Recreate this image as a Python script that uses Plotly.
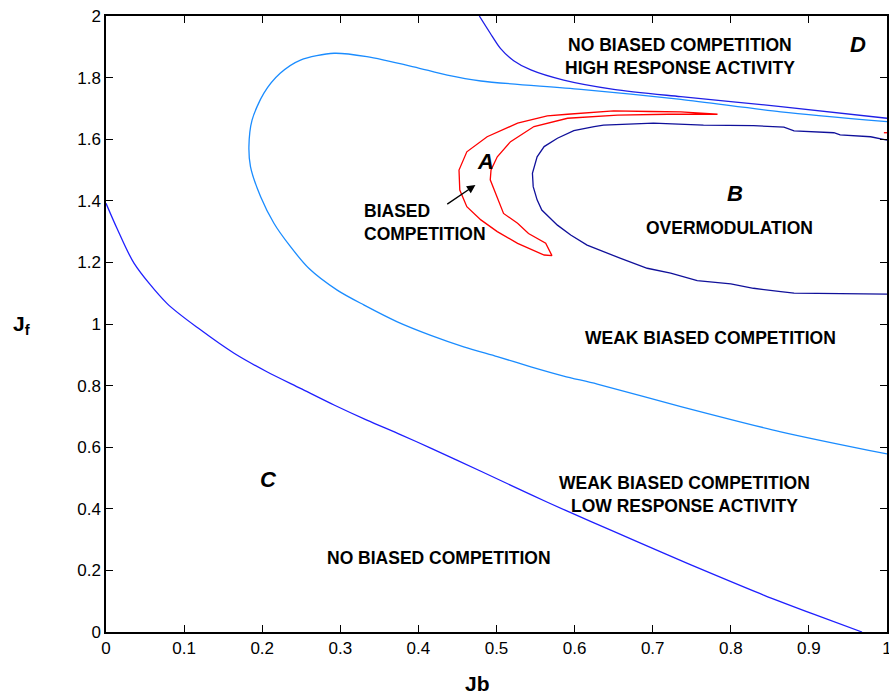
import plotly.graph_objects as go

# ---- data ----
# C boundary (blue, lower)
c_x = [0.0, 0.014, 0.036, 0.078, 0.121, 0.164, 0.206, 0.249, 0.292, 0.334, 0.377, 0.415, 0.480, 0.544,
       0.590, 0.650, 0.714, 0.778, 0.842, 0.906, 0.968]
c_y = [1.392, 1.311, 1.197, 1.067, 0.981, 0.905, 0.845, 0.791, 0.737, 0.688, 0.641, 0.598, 0.522, 0.446,
       0.393, 0.327, 0.256, 0.187, 0.120, 0.058, 0.0]

# weak-biased boundary (light blue)
w_x = [1.0, 0.864, 0.736, 0.608, 0.480, 0.437, 0.394, 0.334, 0.292, 0.249, 0.223, 0.202, 0.187, 0.183,
       0.185, 0.198, 0.215, 0.235, 0.260, 0.296, 0.330, 0.373, 0.415, 0.458, 0.501, 0.544, 0.586, 0.629,
       0.736, 0.864, 1.0]
w_y = [1.657, 1.689, 1.729, 1.762, 1.789, 1.808, 1.835, 1.868, 1.879, 1.857, 1.814, 1.749, 1.662, 1.576,
       1.511, 1.413, 1.327, 1.255, 1.180, 1.110, 1.062, 1.007, 0.964, 0.926, 0.894, 0.861, 0.831, 0.805,
       0.732, 0.650, 0.578]

# D boundary (blue, upper)
d_x = [0.478, 0.492, 0.505, 0.522, 0.544, 0.586, 0.650, 0.736, 0.864, 1.0]
d_y = [2.0, 1.944, 1.895, 1.855, 1.825, 1.792, 1.762, 1.738, 1.706, 1.668]

# A region (red, closed loop)
a_x = [0.783, 0.736, 0.697, 0.650, 0.591, 0.565, 0.527, 0.501, 0.488, 0.462, 0.452, 0.453, 0.462, 0.480,
       0.501, 0.527, 0.548, 0.561, 0.571, 0.563, 0.541, 0.527, 0.509, 0.501, 0.492, 0.493, 0.501, 0.518,
       0.548, 0.591, 0.655, 0.720, 0.783]
a_y = [1.681, 1.689, 1.690, 1.692, 1.681, 1.676, 1.652, 1.622, 1.608, 1.559, 1.500, 1.435, 1.381, 1.338,
       1.300, 1.262, 1.240, 1.224, 1.222, 1.262, 1.294, 1.327, 1.359, 1.413, 1.468, 1.500, 1.543, 1.592,
       1.641, 1.668, 1.678, 1.681, 1.681]
a2_x = [0.996, 1.0]
a2_y = [1.621, 1.621]

# B region (navy)
b_x = [1.0, 0.979, 0.940, 0.932, 0.881, 0.868, 0.829, 0.765, 0.701, 0.637, 0.625, 0.599, 0.578, 0.561,
       0.552, 0.546, 0.547, 0.552, 0.558, 0.578, 0.595, 0.616, 0.659, 0.693, 0.723, 0.757, 0.800, 0.829,
       0.864, 0.881, 1.0]
b_y = [1.597, 1.608, 1.614, 1.621, 1.627, 1.639, 1.644, 1.646, 1.652, 1.646, 1.641, 1.628, 1.603, 1.576,
       1.543, 1.489, 1.446, 1.403, 1.370, 1.321, 1.289, 1.256, 1.213, 1.181, 1.165, 1.141, 1.130, 1.116,
       1.105, 1.100, 1.097]

x_ticks = [0, 0.1, 0.2, 0.3, 0.4, 0.5, 0.6, 0.7, 0.8, 0.9, 1]
x_tick_labels = ["0", "0.1", "0.2", "0.3", "0.4", "0.5", "0.6", "0.7", "0.8", "0.9", "1"]
y_ticks = [0, 0.2, 0.4, 0.6, 0.8, 1, 1.2, 1.4, 1.6, 1.8, 2]
y_tick_labels = ["0", "0.2", "0.4", "0.6", "0.8", "1", "1.2", "1.4", "1.6", "1.8", "2"]

region_labels = ["NO BIASED COMPETITION<br>HIGH RESPONSE ACTIVITY", "OVERMODULATION",
                 "WEAK BIASED COMPETITION", "WEAK BIASED COMPETITION<br>LOW RESPONSE ACTIVITY",
                 "NO BIASED COMPETITION"]
region_x = [0.735, 0.798, 0.774, 0.741, 0.427]
region_y = [1.87, 1.312, 0.955, 0.448, 0.240]

letters = ["A", "B", "C", "D"]
letter_x = [0.486, 0.806, 0.208, 0.963]
letter_y = [1.526, 1.425, 0.494, 1.906]

FONT = "Liberation Sans, Arial, Helvetica, sans-serif"
LBL = 17.5

fig = go.Figure()
fig.add_trace(go.Scatter(x=c_x, y=c_y, mode="lines", line=dict(color="#1f1fff", width=1.3, shape="spline", smoothing=0.8)))
fig.add_trace(go.Scatter(x=w_x, y=w_y, mode="lines", line=dict(color="#1a8cff", width=1.3, shape="spline", smoothing=0.8)))
fig.add_trace(go.Scatter(x=d_x, y=d_y, mode="lines", line=dict(color="#1f1fe6", width=1.3, shape="spline", smoothing=0.8)))
fig.add_trace(go.Scatter(x=a_x, y=a_y, mode="lines", line=dict(color="#ff0000", width=1.3)))
fig.add_trace(go.Scatter(x=a2_x, y=a2_y, mode="lines", line=dict(color="#ff0000", width=1.3)))
fig.add_trace(go.Scatter(x=b_x, y=b_y, mode="lines", line=dict(color="#10109a", width=1.3)))

for t, x, y in zip(region_labels, region_x, region_y):
    fig.add_annotation(x=x, y=y, text="<b>" + t + "</b>", showarrow=False,
                       font=dict(family=FONT, size=LBL, color="black"), align="center")

fig.add_annotation(x=0.328, y=1.331, text="<b>BIASED<br>COMPETITION</b>", showarrow=False,
                   xanchor="left", align="left", font=dict(family=FONT, size=LBL, color="black"))

for t, x, y in zip(letters, letter_x, letter_y):
    fig.add_annotation(x=x, y=y, text="<b><i>" + t + "</i></b>", showarrow=False,
                       font=dict(family=FONT, size=22, color="black"))

fig.add_annotation(x=0.473, y=1.451, ax=0.435, ay=1.386, xref="x", yref="y", axref="x", ayref="y",
                   text="", showarrow=True, arrowhead=2, arrowsize=1.3, arrowwidth=1.3, arrowcolor="black")

fig.add_annotation(xref="paper", yref="paper", x=0.476, y=-0.084, xanchor="center", yanchor="middle",
                   text="<b>Jb</b>", showarrow=False, font=dict(family=FONT, size=21, color="black"))
fig.add_annotation(xref="paper", yref="paper", x=-0.108, y=0.498, xanchor="center", yanchor="middle",
                   text="<b>J<sub>f</sub></b>", showarrow=False, font=dict(family=FONT, size=21, color="black"))

fig.update_layout(
    width=889, height=694,
    margin=dict(l=106, r=2, t=16, b=62, autoexpand=False),
    plot_bgcolor="white", paper_bgcolor="white",
    showlegend=False,
    xaxis=dict(range=[0, 1], tickvals=x_ticks, ticktext=x_tick_labels, ticks="inside", ticklen=7,
               tickcolor="black", showline=True, linecolor="black", linewidth=1.5, mirror="ticks",
               showgrid=False, zeroline=False, automargin=False, ticklabeloverflow="allow",
               tickfont=dict(family=FONT, size=17, color="black")),
    yaxis=dict(range=[0, 2], tickvals=y_ticks, ticktext=y_tick_labels, ticks="inside", ticklen=7,
               tickcolor="black", showline=True, linecolor="black", linewidth=1.5, mirror="ticks",
               showgrid=False, zeroline=False, automargin=False, ticklabeloverflow="allow",
               tickfont=dict(family=FONT, size=17, color="black")),
)

fig.write_html("out.html", config={"displayModeBar": False},
               post_script="document.body.style.margin='0';document.body.style.padding='0';"
                           "document.body.style.overflow='hidden';")
